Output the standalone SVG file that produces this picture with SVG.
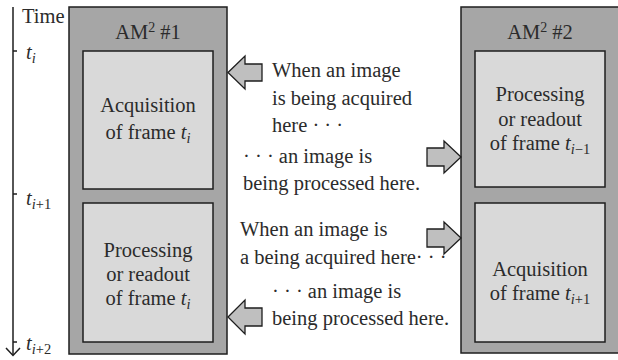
<svg xmlns="http://www.w3.org/2000/svg" width="618" height="360" viewBox="0 0 618 360">
<defs>
<style>
text{font-family:'Liberation Serif','Times New Roman',serif;font-size:20.5px;fill:#2b2b2b}
.c{text-anchor:middle}
.it{font-style:italic}
.outer{fill:#a6a6a6;stroke:#1e1e1e;stroke-width:1.5}
.inner{fill:#d9d9d9;stroke:#1e1e1e;stroke-width:1.5}
.arrow{fill:#bfbfbf;stroke:#1e1e1e;stroke-width:1.3;stroke-linejoin:miter}
.axis{fill:none;stroke:#1e1e1e;stroke-width:1.5}
</style>
</defs>
<rect width="618" height="360" fill="#ffffff"/>

<g id="time-axis">
<line class="axis" x1="13" y1="7" x2="13" y2="355"/>
<polyline class="axis" points="6,348 13,355.5 20,348"/>
<line class="axis" x1="13" y1="51" x2="17" y2="51"/>
<line class="axis" x1="13" y1="194" x2="17" y2="194"/>
<line class="axis" x1="13" y1="342" x2="17" y2="342"/>
<text x="22" y="23">Time</text>
<text x="26" y="59"><tspan class="it">t</tspan><tspan class="it" font-size="14.5" dy="4">i</tspan></text>
<text x="26" y="205"><tspan class="it">t</tspan><tspan class="it" font-size="14.5" dy="4">i</tspan><tspan font-size="14.5">+1</tspan></text>
<text x="26" y="350"><tspan class="it">t</tspan><tspan class="it" font-size="14.5" dy="4">i</tspan><tspan font-size="14.5">+2</tspan></text>
</g>

<g id="am1">
<rect class="outer" x="69" y="7" width="158" height="347"/>
<text class="c" x="148" y="39">AM<tspan font-size="14" dy="-7">2</tspan><tspan dy="7"> #1</tspan></text>
</g>
<g id="am1-acquisition">
<rect class="inner" x="83" y="51" width="130" height="138"/>
<text class="c" x="148" y="112">Acquisition</text>
<text class="c" x="148" y="139">of frame <tspan class="it">t</tspan><tspan class="it" font-size="14.5" dy="4">i</tspan></text>
</g>
<g id="am1-processing">
<rect class="inner" x="83" y="203" width="130" height="139"/>
<text class="c" x="148" y="257">Processing</text>
<text class="c" x="148" y="281">or readout</text>
<text class="c" x="148" y="305">of frame <tspan class="it">t</tspan><tspan class="it" font-size="14.5" dy="4">i</tspan></text>
</g>

<g id="am2">
<rect class="outer" x="461" y="7" width="170" height="346"/>
<text class="c" x="540" y="39">AM<tspan font-size="14" dy="-7">2</tspan><tspan dy="7"> #2</tspan></text>
</g>
<g id="am2-processing">
<rect class="inner" x="475" y="51" width="130" height="136"/>
<text class="c" x="540" y="101">Processing</text>
<text class="c" x="540" y="126">or readout</text>
<text class="c" x="540" y="150">of frame <tspan class="it">t</tspan><tspan class="it" font-size="14.5" dy="4">i</tspan><tspan font-size="14.5">−1</tspan></text>
</g>
<g id="am2-acquisition">
<rect class="inner" x="475" y="203" width="130" height="139"/>
<text class="c" x="540" y="276">Acquisition</text>
<text class="c" x="540" y="300">of frame <tspan class="it">t</tspan><tspan class="it" font-size="14.5" dy="4">i</tspan><tspan font-size="14.5">+1</tspan></text>
</g>

<g id="notes">
<text x="272" y="77">When an image</text>
<text x="272" y="105">is being acquired</text>
<text x="272" y="132">here · · ·</text>
<text x="243" y="163">· · ·  an image is</text>
<text x="243" y="190">being processed here.</text>
<text x="240" y="236">When an image is</text>
<text x="240" y="264">a being acquired here· · ·</text>
<text x="272" y="298">· · ·  an image is</text>
<text x="272" y="325">being processed here.</text>
</g>

<g id="connectors">
<polygon class="arrow" points="228,72.5 245,56 245,64 262,64 262,81 245,81 245,89"/>
<polygon class="arrow" points="427,148 444,148 444,141 461,157 444,173 444,166 427,166"/>
<polygon class="arrow" points="427,229 444,229 444,222 461,238 444,254 444,247 427,247"/>
<polygon class="arrow" points="228,317 245,300 245,308 262,308 262,326 245,326 245,334"/>
</g>
</svg>
